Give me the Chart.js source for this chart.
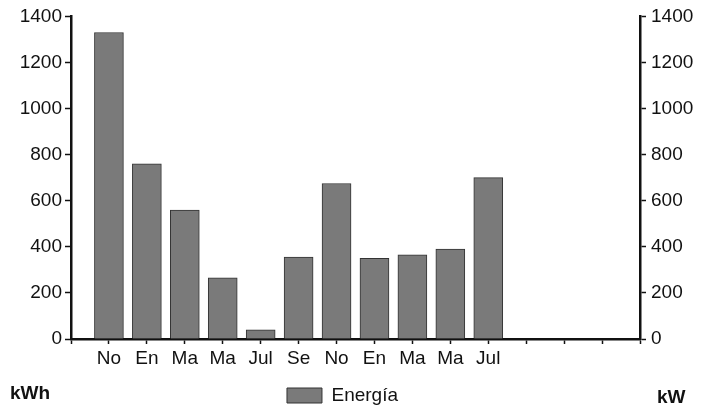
<!DOCTYPE html>
<html>
<head>
<meta charset="utf-8">
<script src="https://cdn.jsdelivr.net/npm/chart.js@4/dist/chart.umd.min.js"></script>
<style>
  html, body { margin: 0; padding: 0; background: #fff; }
  #wrap { position: relative; width: 715px; height: 412px; }
  canvas { position: absolute; left: 0; top: 0; }
  .unit { position: absolute; font-family: "Liberation Sans", Arial, sans-serif; font-weight: bold; font-size: 19px; line-height: 1; color: #111; }
</style>
</head>
<body>
<div id="wrap">
  <canvas id="c" width="715" height="412"></canvas>
  <div class="unit" style="left:10px; top:383px;">kWh</div>
  <div class="unit" style="left:657px; top:387px;">kW</div>
</div>
<script>
const months = ['No', 'En', 'Ma', 'Ma', 'Jul', 'Se', 'No', 'En', 'Ma', 'Ma', 'Jul'];
const energia = [1330, 760, 560, 265, 40, 355, 675, 350, 365, 390, 700];
const leadingSlots = 1;
const trailingSlots = 4;
const seriesName = 'Energía';
const axisMin = 0, axisMax = 1400, axisStep = 200;

const labels = [...Array(leadingSlots).fill(''), ...months, ...Array(trailingSlots).fill('')];
const data = [...Array(leadingSlots).fill(null), ...energia, ...Array(trailingSlots).fill(null)];

const FONT = { family: '"Liberation Sans", Arial, sans-serif', size: 19 };
const INK = '#111';
const plainNum = v => String(v);

const shiftLegend = {
  id: 'shiftLegend',
  afterLayout(chart) {
    const lg = chart.legend;
    if (lg) { lg.left -= 15; lg.right -= 15; }
  }
};

new Chart(document.getElementById('c'), {
  type: 'bar',
  data: {
    labels: labels,
    datasets: [{
      label: seriesName,
      data: data,
      yAxisID: 'y',
      backgroundColor: '#7a7a7a',
      borderColor: '#333',
      borderWidth: 1,
      barThickness: 29
    }]
  },
  plugins: [shiftLegend],
  options: {
    responsive: false,
    animation: false,
    layout: { padding: { top: 15, left: 0, right: 0, bottom: -3 } },
    plugins: {
      tooltip: { enabled: false },
      legend: {
        position: 'bottom',
        labels: { font: FONT, color: INK, boxWidth: 35, boxHeight: 15, padding: 10 }
      }
    },
    scales: {
      x: {
        type: 'category',
        offset: false,
        grid: { offset: false, drawOnChartArea: false, tickLength: 5, color: INK, tickWidth: 1.5 },
        border: { color: INK, width: 2.5 },
        ticks: { font: FONT, color: INK, padding: 3, maxRotation: 0, autoSkip: false },
        afterFit: s => { s.height = 37; }
      },
      y: {
        position: 'left',
        min: axisMin, max: axisMax,
        grid: { drawOnChartArea: false, tickLength: 6, color: INK, tickWidth: 1.5 },
        border: { color: INK, width: 2.5 },
        ticks: { stepSize: axisStep, font: FONT, color: INK, padding: 3, callback: plainNum },
        afterFit: s => { s.width = 71; }
      },
      y1: {
        position: 'right',
        min: axisMin, max: axisMax,
        grid: { drawOnChartArea: false, tickLength: 6, color: INK, tickWidth: 1.5 },
        border: { color: INK, width: 2.5 },
        ticks: { stepSize: axisStep, font: FONT, color: INK, padding: 5, callback: plainNum },
        afterFit: s => { s.width = 75; }
      }
    }
  }
});
</script>
</body>
</html>
